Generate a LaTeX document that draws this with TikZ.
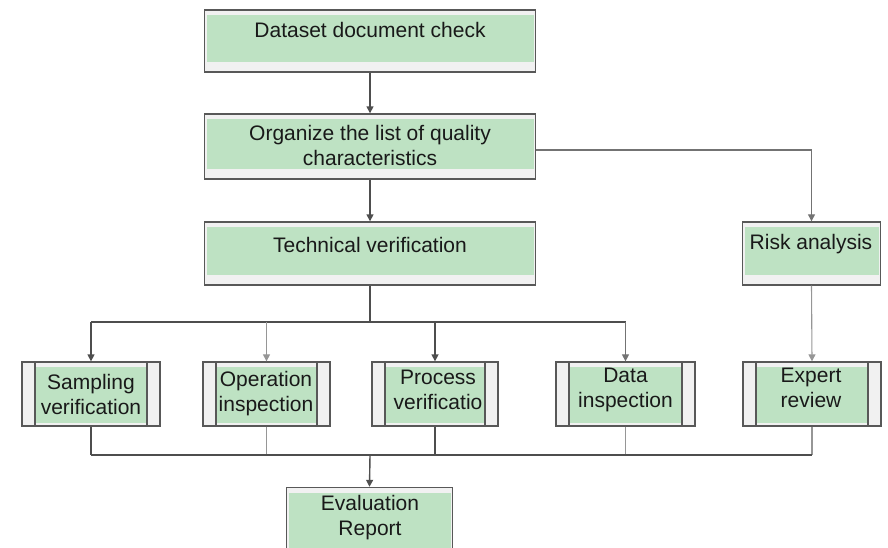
\documentclass[tikz,border=0pt]{standalone}
\usepackage{fontspec}
\setmainfont{Liberation Sans}
\usetikzlibrary{arrows.meta}
\definecolor{boxgreen}{RGB}{190,226,195}
\definecolor{bandgray}{RGB}{241,241,241}
\definecolor{edgegray}{RGB}{88,88,88}
\definecolor{darkline}{RGB}{78,78,78}
\definecolor{midline}{RGB}{115,115,115}
\definecolor{lightline}{RGB}{150,150,150}
\definecolor{txtcol}{RGB}{25,25,25}
\tikzset{
  mainbox/.style={draw=edgegray, line width=1.4pt, fill=bandgray, inner sep=0pt,
    path picture={\fill[boxgreen] ([xshift=2pt,yshift=-5pt]path picture bounding box.north west)
      rectangle ([xshift=-2pt,yshift=10pt]path picture bounding box.south east);}},
  procbox/.style={draw=edgegray, line width=1.3pt, fill=bandgray, inner sep=0pt,
    path picture={
      \fill[boxgreen] ([xshift=14pt,yshift=-5pt]path picture bounding box.north west)
        rectangle ([xshift=-14pt,yshift=3pt]path picture bounding box.south east);
      \draw[edgegray,line width=1.3pt] ([xshift=13pt]path picture bounding box.north west)
        -- ([xshift=13pt]path picture bounding box.south west);
      \draw[edgegray,line width=1.3pt] ([xshift=-13pt]path picture bounding box.north east)
        -- ([xshift=-13pt]path picture bounding box.south east);}},
  txt/.style={font=\fontsize{21}{25}\selectfont, text=txtcol, align=center, inner sep=0pt, text depth=0pt},
  conn/.style={line width=1.4pt, draw=darkline},
  connm/.style={line width=1.2pt, draw=midline},
  connl/.style={line width=1.1pt, draw=lightline},
  tip/.style={-{Triangle[width=7pt,length=7pt]}},
}
\begin{document}
\begin{tikzpicture}[x=1pt,y=-1pt]
\useasboundingbox (0,0) rectangle (888,547);
\clip (0,0) rectangle (888,547);
% boxes
\node[mainbox, minimum width=331pt, minimum height=62pt] (b1) at (370,41) {};
\node[mainbox, minimum width=331pt, minimum height=65pt] (b2) at (370,146.5) {};
\node[mainbox, minimum width=331pt, minimum height=63pt] (b3) at (370,253.5) {};
\node[mainbox, minimum width=138pt, minimum height=63pt] (risk) at (811.5,253.5) {};
\node[procbox, minimum width=138pt, minimum height=64pt] (samp) at (91,394) {};
\node[procbox, minimum width=127pt, minimum height=64pt] (oper) at (266.5,394) {};
\node[procbox, minimum width=126pt, minimum height=64pt] (proc) at (435,394) {};
\node[procbox, minimum width=139pt, minimum height=64pt] (data) at (625.5,394) {};
\node[procbox, minimum width=138pt, minimum height=64pt] (expert) at (812,394) {};
\node[mainbox, minimum width=166pt, minimum height=80pt] (eval) at (369.5,527.5) {};
% texts
\node[txt] (t1) at (370,30) {Dataset document check};
\node[txt] (t2) at (370,145) {Organize the list of quality\\characteristics};
\node[txt] (t3) at (370,245) {Technical verification};
\node[txt] (t4) at (811,241.5) {Risk analysis};
\node[txt] (t5) at (91,394) {Sampling\\verification};
\node[txt] (t6) at (266,391.5) {Operation\\inspection};
\node[txt] (t7) at (438,390) {Process\\verificatio};
\node[txt] (t8) at (625.5,387.5) {Data\\inspection};
\node[txt] (t9) at (811,388) {Expert\\review};
\node[txt] (t10) at (370,515) {Evaluation\\Report};
% junction coordinates
\coordinate (j1) at (370,322);
\coordinate (j2) at (370,455);
% connectors
\draw[conn,tip] (b1.south) -- (b2.north);
\draw[conn,tip] (b2.south) -- (b3.north);
\draw[connm,tip] (b2.east |- 0,150) -| (risk.north);
\draw[conn] (b3.south) -- (j1);
\draw[conn] (samp.north |- j1) -- (data.north |- j1);
\draw[conn,tip] (samp.north |- j1) -- (samp.north);
\draw[connl,tip] (oper.north |- j1) -- (oper.north);
\draw[conn,tip] (proc.north |- j1) -- (proc.north);
\draw[connm,tip] (data.north |- j1) -- (data.north);
\draw[connl,tip] (risk.south) -- (expert.north);
\draw[conn] (samp.south) -- (samp.south |- j2);
\draw[connl] (oper.south) -- (oper.south |- j2);
\draw[conn] (proc.south) -- (proc.south |- j2);
\draw[connl] (data.south) -- (data.south |- j2);
\draw[connl] (expert.south) -- (expert.south |- j2);
\draw[conn] (samp.south |- j2) -- (expert.south |- j2);
\draw[conn,tip] (j2) -- (eval.north);
\end{tikzpicture}
\end{document}
